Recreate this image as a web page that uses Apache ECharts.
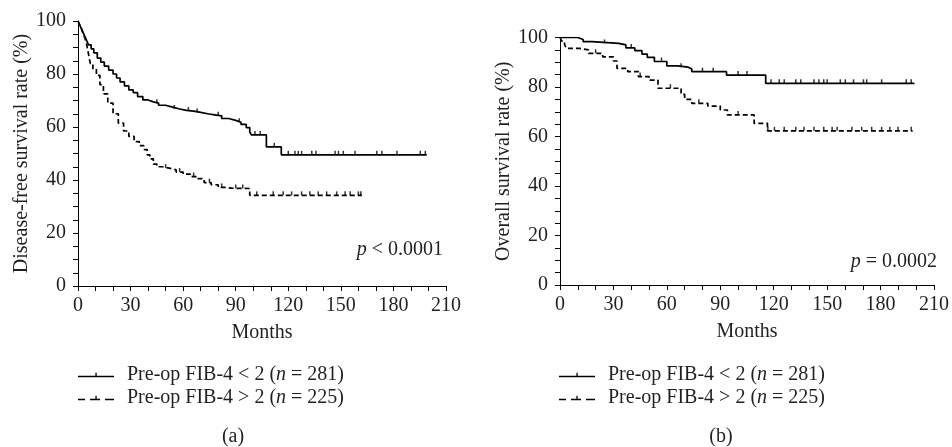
<!DOCTYPE html>
<html>
<head>
<meta charset="utf-8">
<script src="https://cdn.jsdelivr.net/npm/echarts@6/dist/echarts.min.js"></script>
<style>
html,body{margin:0;padding:0;background:#fff;}
#c{width:952px;height:447px;}
</style>
</head>
<body>
<div id="c"></div>
<script>
// ---- Data ----
var xTicks = [0, 30, 60, 90, 120, 150, 180, 210];
var yTicks = [0, 20, 40, 60, 80, 100];
var seriesNames = ['Pre-op FIB-4 < 2 (n = 281)', 'Pre-op FIB-4 > 2 (n = 225)'];

// (a) Disease-free survival
var dfsLowT = [0,1,2,3,4,5,6,7.5,9,11,13,15,17.5,20,22,24,26.5,29,31.5,34,37,40,43,46,50,54,58,62,66,70,74,78,82,86,90,93,96,98,99,107.5,116,199];
var dfsLowS = [100,98.5,97,95.5,94,92.5,91,89.5,88,86,84.5,83,81.5,80,78.5,77,75.5,74,73,71.5,70.2,69.5,69,68.2,67.5,66.8,66.3,66,65.5,65,64.6,64.2,63.2,62.5,61.8,61,59.8,58.1,57,52.5,49.5,49.5];
var dfsLowCens = [45,55,63,68,80,92,101,104,112,120,123.8,125.7,127.6,133.4,135.8,146.7,148.6,151.4,158.1,170.5,173.4,182,195.3,198.2];

var dfsHighT = [0,1,2,3,4,5,6,7,8.5,10.5,12.5,14.5,17,20,23,26,29,32,35,37.5,39.5,41,43,45,48,52,56,60,64,68,72,76,80,84,88,98,162];
var dfsHighS = [100,98.5,97,95,93.5,91,87.5,84,82,79.5,76,72.5,69,65,61.5,58.5,56.5,54.5,53,51.5,49.5,48,46,45,44.5,43.8,43,42.2,41.3,40.5,39,38.2,37.2,36.9,36.8,34.2,34.2];
var dfsHighCens = [50,58,66,75,82,90,94,102,111.4,117.1,121.9,127.6,132.3,137.1,141.9,147.6,152.4,155.3,160,161.4];

// (b) Overall survival
var osLowT = [0,10,13,18,33,37,42,46,49,53,60,66,72,74,93.5,115.5,199];
var osLowS = [100,99.2,98.3,97.6,97,95.8,94.7,93.3,92,90.3,88.5,88,87.3,86.2,84.8,81.5,81.5];
var osLowCens = [25,40,57,68,80,86,100,105,118.5,123.1,125.9,132.4,135.2,142.6,145.4,148.1,150,157.4,160.2,164.8,170.4,172.2,180.6,194.4,197.2];

var osHighT = [0,1,2.5,3.5,11,16,24,30,32,38,44,50,55,68,70,74,83,90,94,109,116.5,198];
var osHighS = [100,98.5,97.5,95.6,95,93.6,92.2,90.5,87.5,86.2,84.2,82.8,79.5,77,75,73.4,72.3,70.7,68.7,65.3,62.3,62.3];
var osHighCens = [20,45,62,78,100,116.7,120.4,125.9,132.4,137,142.6,148.1,152.8,155.6,163.9,169.4,175,180.6,185.2,189.8,197.2];

// ---- helpers ----
function pairs(t, s) { return t.map(function (v, i) { return [v, s[i]]; }); }
function stepAt(t, s, x) {
  var v = s[0];
  for (var i = 0; i < t.length; i++) { if (t[i] <= x) v = s[i]; else break; }
  return v;
}
function censPts(t, s, c) { return c.map(function (x) { return [x, stepAt(t, s, x)]; }); }

var FONT = "'Liberation Serif', 'Times New Roman', serif";
var TXT = '#231f20';
var DASH = [5, 3];

function xAxisCfg(idx) {
  return {
    gridIndex: idx, type: 'value', min: 0, max: 210, interval: 10,
    name: 'Months', nameLocation: 'middle', nameGap: 37,
    nameTextStyle: { fontFamily: FONT, fontSize: 20, color: TXT },
    axisLine: { show: true, onZero: false, lineStyle: { color: '#000', width: 1 } },
    axisTick: { show: true, length: 5, lineStyle: { color: '#000' } },
    axisLabel: { fontFamily: FONT, fontSize: 20, color: TXT, margin: 10, showMinLabel: true, showMaxLabel: true,
      formatter: function (v) { return xTicks.indexOf(v) >= 0 ? String(v) : ''; } },
    splitLine: { show: false }
  };
}
function yAxisCfg(idx, name) {
  return {
    gridIndex: idx, type: 'value', min: 0, max: 100, interval: 5,
    name: name, nameLocation: 'middle', nameGap: 46, nameRotate: 90,
    nameTextStyle: { fontFamily: FONT, fontSize: 20, color: TXT },
    axisLine: { show: true, onZero: false, lineStyle: { color: '#000', width: 1 } },
    axisTick: { show: true, length: 5, lineStyle: { color: '#000' } },
    axisLabel: { fontFamily: FONT, fontSize: 20, color: TXT, margin: 12, showMinLabel: true, showMaxLabel: true,
      formatter: function (v) { return yTicks.indexOf(v) >= 0 ? String(v) : ''; } },
    splitLine: { show: false }
  };
}
function lineSeries(name, idx, t, s, dashed) {
  return {
    name: name, type: 'line', xAxisIndex: idx, yAxisIndex: idx,
    data: pairs(t, s), step: 'end', symbol: 'none', silent: true,
    lineStyle: { color: '#000', width: 1.7, type: dashed ? DASH : 'solid' },
    itemStyle: { color: '#000' }, animation: false
  };
}
function censSeries(idx, t, s, c) {
  return {
    name: 'censored', type: 'scatter', xAxisIndex: idx, yAxisIndex: idx,
    data: censPts(t, s, c), symbol: 'rect', symbolSize: [1.5, 4], symbolOffset: [0, -2],
    itemStyle: { color: '#000' }, silent: true, animation: false
  };
}
function legendFmt(name) {
  var m = name.match(/^(.*\()n( = .*)$/);
  return '{t|' + m[1] + '}{i|n}{t|' + m[2] + '}';
}
var iconSolid = 'path://M0,4h36v1.3h-36z M17.4,1h1.3v3h-1.3z';
var iconDash = 'path://M0,4h7v1.3h-7z M12,4h10v1.3h-10z M17.4,1h1.3v3h-1.3z M27,4h9v1.3h-9z';
function legendCfg(left) {
  return {
    left: left, top: 365, padding: 0, orient: 'vertical', itemWidth: 36, itemHeight: 5, itemGap: 3,
    selectedMode: false,
    data: [{ name: seriesNames[0], icon: iconSolid }, { name: seriesNames[1], icon: iconDash }],
    formatter: legendFmt,
    textStyle: {
      fontFamily: FONT, fontSize: 20, color: TXT, lineHeight: 20, padding: [0, 0, 0, 8],
      rich: {
        t: { fontFamily: FONT, fontSize: 20, color: TXT, lineHeight: 20 },
        i: { fontFamily: FONT, fontSize: 20, color: TXT, lineHeight: 20, fontStyle: 'italic' }
      }
    }
  };
}

var chart = echarts.init(document.getElementById('c'), null, { renderer: 'canvas' });
chart.setOption({
  backgroundColor: '#fff',
  animation: false,
  grid: [
    { left: 78, top: 21, width: 368, height: 265, containLabel: false },
    { left: 560, top: 37.5, width: 377, height: 247.5, containLabel: false }
  ],
  xAxis: [xAxisCfg(0), xAxisCfg(1)],
  yAxis: [yAxisCfg(0, 'Disease-free survival rate (%)'), yAxisCfg(1, 'Overall survival rate (%)')],
  legend: [legendCfg(78), legendCfg(559)],
  series: [
    lineSeries(seriesNames[0], 0, dfsLowT, dfsLowS, false),
    lineSeries(seriesNames[1], 0, dfsHighT, dfsHighS, true),
    censSeries(0, dfsLowT, dfsLowS, dfsLowCens),
    censSeries(0, dfsHighT, dfsHighS, dfsHighCens),
    lineSeries(seriesNames[0], 1, osLowT, osLowS, false),
    lineSeries(seriesNames[1], 1, osHighT, osHighS, true),
    censSeries(1, osLowT, osLowS, osLowCens),
    censSeries(1, osHighT, osHighS, osHighCens)
  ],
  graphic: [
    { type: 'text', x: 443, y: 250, silent: true,
      style: { text: '{i|p} < 0.0001', align: 'right', verticalAlign: 'middle',
        font: '20px ' + FONT, fill: TXT,
        rich: { i: { fontFamily: FONT, fontSize: 20, fontStyle: 'italic', color: TXT } } } },
    { type: 'text', x: 937, y: 262, silent: true,
      style: { text: '{i|p} = 0.0002', align: 'right', verticalAlign: 'middle',
        font: '20px ' + FONT, fill: TXT,
        rich: { i: { fontFamily: FONT, fontSize: 20, fontStyle: 'italic', color: TXT } } } },
    { type: 'text', x: 233, y: 437, silent: true,
      style: { text: '(a)', align: 'center', verticalAlign: 'middle', font: '20px ' + FONT, fill: TXT } },
    { type: 'text', x: 721, y: 437, silent: true,
      style: { text: '(b)', align: 'center', verticalAlign: 'middle', font: '20px ' + FONT, fill: TXT } }
  ]
});
</script>
</body>
</html>
